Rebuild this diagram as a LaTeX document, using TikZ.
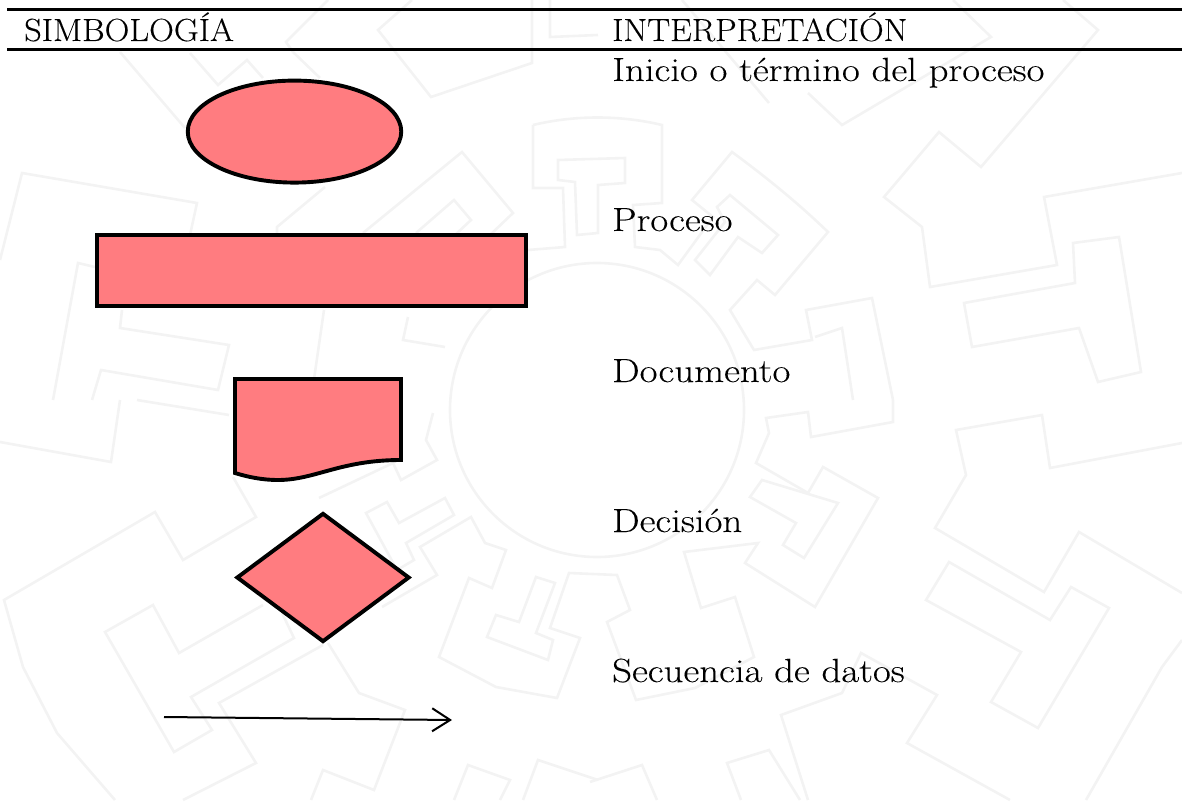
\documentclass[tikz,border=0pt]{standalone}
\usepackage{amsmath}
\usepackage{xcolor}
\usepackage{fontspec}
\newfontfamily\headfont[FakeStretch=1.073, FakeBold=0.15]{Latin Modern Roman}
\newfontfamily\bodyfont[FakeStretch=1.16, FakeBold=0.15]{Latin Modern Roman}
\usetikzlibrary{calc, positioning, arrows.meta, shapes}
\pgfdeclarelayer{bg}
\pgfsetlayers{bg,main}
\definecolor{symfill}{HTML}{FF7C80}
\definecolor{wmgray}{HTML}{F3F3F3}
\tikzset{
	symbol/.style={draw=black, fill=symfill, line width=3.9, inner sep=0},
	headtext/.style={anchor=base west, inner sep=0, font=\headfont\fontsize{32}{32}\selectfont},
	bodytext/.style={anchor=base west, inner sep=0, font=\bodyfont\fontsize{33.5}{33.5}\selectfont},
	wmline/.style={draw=wmgray, line width=2.6, line join=miter},
	rule/.style={line width=3}
}

\begin{document}
\begin{tikzpicture}
			[x=1pt, y=-1pt]
		\useasboundingbox (0,0) rectangle (1182,802);

		% watermark %
		\begin{pgfonlayer}{bg}
		\draw[wmline] (597,410) circle (147);
		\draw[wmline] (0,260) -- (22,173) -- (197,203) -- (190,235);
		\draw[wmline] (1063,0) -- (1098,30) -- (981,167) -- (939,132) -- (884,197) -- (922,227) -- (930,287) -- (1057,265) -- (1044,197) -- (1182,173);
		\draw[wmline] (964,303) -- (1075,283) -- (1073,243) -- (1119,237) -- (1141,372) -- (1098,382) -- (1079,328) -- (972,347) -- cycle;
		\draw[wmline] (533,125) .. controls (575,115) and (620,115) .. (662,125) -- (662,203) -- (633,205) -- (635,247) -- (660,250) -- (678,265) -- (713,217) -- (692,200) -- (732,152) .. controls (770,180) and (800,205) .. (828,232) -- (775,295) -- (757,280) -- (730,310) -- (754,350) -- (812,340) -- (806,310) -- (872,298) -- (893,400);
		\draw[wmline] (533,125) -- (533,188) -- (563,188) -- (565,247) -- (528,250);
		\draw[wmline] (558,160) -- (625,158) -- (625,183) -- (598,185) -- (598,233) -- (577,235) -- (575,182) -- (558,180) -- cycle;
		\draw[wmline] (730,195) -- (778,235) -- (762,253) -- (738,237) -- (710,275) -- (695,260) -- (725,222) -- (717,207) -- cycle;
		\draw[wmline] (815,337) -- (842,328) -- (853,400);
		\draw[wmline] (233,477) -- (256,517) -- (183,560) -- (155,512) -- (4,600) -- (23,667) -- (57,733) -- (115,800);
		\draw[wmline] (282,613) -- (294,638) -- (191,697) -- (212,730) -- (174,752) -- (105,632) -- (153,605) -- (179,653) -- (263,605);
		\draw[wmline] (323,645) -- (219,703) -- (256,763) -- (183,800);
		\draw[wmline] (328,643) -- (359,693) -- (405,710) -- (374,790) -- (323,770) -- (311,800);
		\draw[wmline] (382,607) -- (437,575) -- (420,547) -- (471,517) -- (485,543) -- (506,550) -- (492,588) -- (469,578) -- (439,657) -- (496,687) -- (557,698) -- (580,638) -- (550,628) -- (569,573) -- (617,575) -- (630,610) -- (607,622) -- (636,700) -- (695,688) -- (754,657) -- (735,597) -- (701,608) -- (684,552) -- (758,543) -- (745,563) -- (815,607) -- (878,498) -- (823,467) -- (808,493) -- (756,463) -- (769,433) -- (766,418) -- (808,412) -- (811,437) -- (893,422) -- (893,400);
		\draw[wmline] (536,577) -- (519,622) -- (496,615) -- (487,637) -- (548,660) -- (553,640) -- (536,633) -- (555,583) -- cycle;
		\draw[wmline] (762,480) -- (750,497) -- (796,523) -- (783,545) -- (804,558) -- (838,503) -- cycle;
		\draw[wmline] (1182,443) -- (1050,468) -- (1042,415) -- (956,430) -- (966,475) -- (935,528) -- (1044,592) -- (1079,532) -- (1182,593);
		\draw[wmline] (949,562) -- (926,600) -- (1021,652) -- (991,702) -- (1038,728) -- (1109,608) -- (1071,587) -- (1050,620) -- cycle;
		\draw[wmline] (808,800) -- (781,715) -- (842,693) -- (861,653) -- (937,695) -- (907,743) -- (1010,800);
		\draw[wmline] (1182,640) -- (1162,667) -- (1086,800);
		\draw[wmline] (741,800) -- (727,763) -- (769,750) -- (800,800);
		\draw[wmline] (590,782) -- (642,765) -- (657,800);
		\draw[wmline] (454,800) -- (468,765) -- (510,780) -- (500,800);
		\draw[wmline] (523,800) -- (538,760) -- (598,780);
		\draw[wmline] (0,442) -- (111,462) -- (120,400);
		\draw[wmline] (137,400) -- (229,415);
		\draw[wmline] (319,498) -- (393,463) -- (401,480) -- (437,460) -- (426,440) -- (433,413);
		\draw[wmline] (366,513) -- (387,502) -- (399,523) -- (445,498) -- (454,515) -- (406,543) -- (414,560) -- (397,570) -- cycle;
		\draw[wmline] (277,235) -- (277,227) -- (325,187);
		\draw[wmline] (363,233) -- (462,152) -- (513,213) -- (490,235);
		\draw[wmline] (416,233) -- (454,200) -- (471,220) -- (455,235);
		\draw[wmline] (445,347) -- (403,340) -- (408,317);
		\draw[wmline] (324,310) -- (311,400);
		\draw[wmline] (95,267) -- (78,263) -- (53,400);
		\draw[wmline] (122,310) -- (120,328) -- (229,345) -- (218,390) -- (101,370) -- (92,400);
		\draw[wmline] (120,52) -- (185,128);
		\draw[wmline] (190,53) -- (218,85) -- (247,60) -- (263,78);
		\draw[wmline] (293,52) -- (320,78);
		\draw[wmline] (328,0) -- (286,42) -- (293,52);
		\draw[wmline] (412,0) -- (378,30) -- (431,97) -- (532,63) -- (532,0);
		\draw[wmline] (550,0) -- (550,37) -- (598,35);
		\draw[wmline] (682,0) -- (769,103);
		\draw[wmline] (808,93) -- (842,125) -- (991,37) -- (953,0);
		\end{pgfonlayer}

		% rules %
		\coordinate (topl) at (7,10);
		\coordinate (topr) at (1182,10);
		\coordinate (midl) at (7,49.5);
		\coordinate (midr) at (1182,49.5);
		\draw[rule] (topl) -- (topr);
		\draw[rule] (midl) -- (midr);

		% nodes %
		\node[headtext] (simb) at (24,41) {SIMBOLOGÍA};
		\node[headtext] (interp) at (612,41) {INTERPRETACIÓN};
		\node[bodytext] (inicio) at (612,81) {Inicio o término del proceso};
		\node[bodytext] (proceso) at (612,231) {Proceso};
		\node[bodytext] (documento) at (612,382) {Documento};
		\node[bodytext] (decision) at (612,532) {Decisión};
		\node[bodytext] (secuencia) at (612,682) {Secuencia de datos};

		\node[symbol, ellipse, minimum width=213.5, minimum height=102] (term) at (294.5,131.6) {};
		\node[symbol, rectangle, minimum width=429, minimum height=71] (proc) at (311.5,270.5) {};
		\draw[symbol, line join=miter] (235,379) -- (401,379) -- (401,460)
			.. controls (340,460) and (315,480) .. (278,480)
			.. controls (262,480) and (248,477) .. (235,473) -- cycle;
		\node[symbol, diamond, minimum width=173, minimum height=129, aspect=1.34] (dec) at (323,577.5) {};

		% edges %
		\coordinate (flowa) at (164,717);
		\coordinate (flowb) at (452,720);
		\draw[-{Straight Barb[length=18, width=23, line width=2]}, line width=2] (flowa) -- (flowb);
		\end{tikzpicture}
\end{document}
